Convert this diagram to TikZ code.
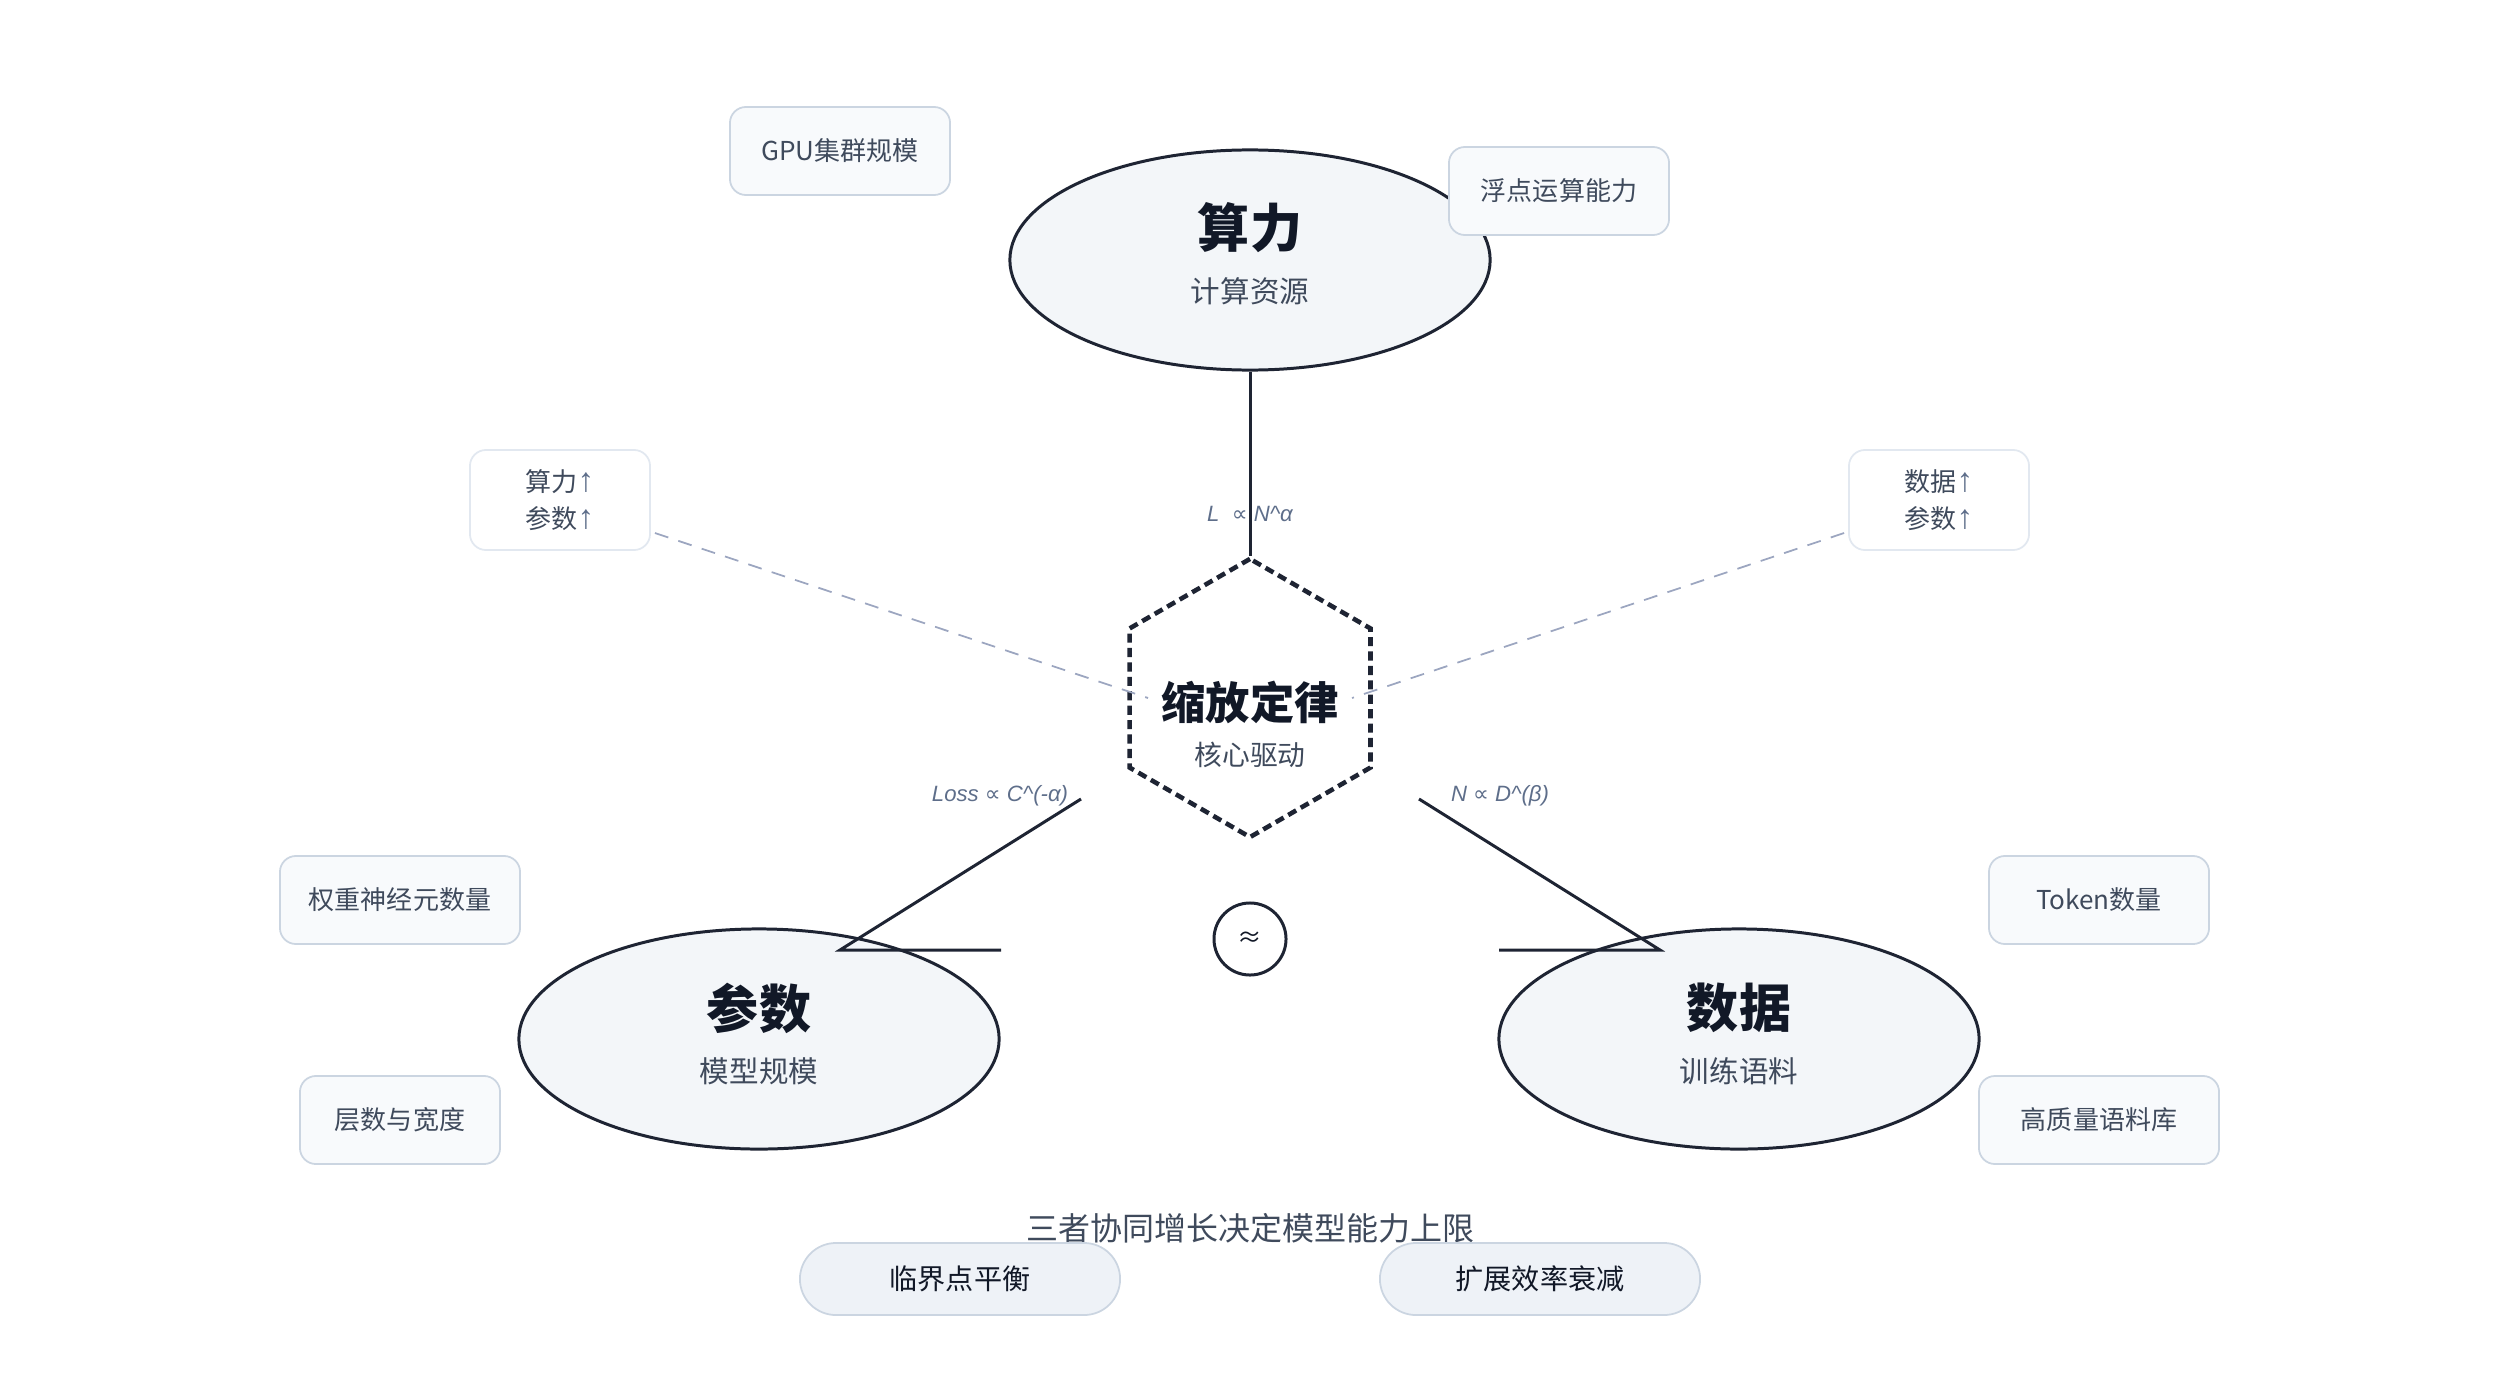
\documentclass[tikz,border=0pt]{standalone}
\usepackage{fontspec}
\setmainfont{Noto Sans CJK SC}
\newfontfamily\lawfont{Liberation Sans}
\newfontfamily\symfont{DejaVu Sans}
\usetikzlibrary{shapes.geometric}
\definecolor{ink}{HTML}{1E2433}
\definecolor{headc}{HTML}{111827}
\definecolor{subc}{HTML}{3F4A5C}
\definecolor{pillarfill}{HTML}{F3F6F9}
\definecolor{tagline}{HTML}{CBD5E1}
\definecolor{tagfill}{HTML}{F8FAFC}
\definecolor{tradeline}{HTML}{E2E8F0}
\definecolor{lawc}{HTML}{5E6E8A}
\definecolor{dashc}{HTML}{9CA6C0}
\definecolor{pillfill}{HTML}{EEF2F7}
\newcommand{\uparr}{{\lawfont\fontsize{9.5}{10.5}\selectfont\color{lawc}↑}}
\begin{document}
\begin{tikzpicture}[
    x=0.01cm, y=-0.01cm,
    pillar/.style={ellipse, draw=ink, line width=0.85pt, fill=pillarfill, minimum width=4.8cm, minimum height=2.2cm, inner sep=0pt},
    pillarhead/.style={font=\bfseries\fontsize{14.8}{16}\selectfont, text=headc},
    pillarsub/.style={font=\fontsize{8.4}{10}\selectfont, text=subc},
    tagbox/.style={draw=tagline, fill=tagfill, line width=0.5pt, rounded corners=0.16cm, minimum height=0.88cm, font=\fontsize{7.4}{9}\selectfont, text=subc},
    tradebox/.style={draw=tradeline, fill=white, line width=0.5pt, rounded corners=0.16cm, minimum width=1.8cm, minimum height=1cm, align=center, font=\fontsize{7.4}{10.5}\selectfont, text=subc},
    lawtext/.style={font=\lawfont\itshape\fontsize{6.3}{8}\selectfont, text=lawc},
    pillbox/.style={draw=tagline, fill=pillfill, line width=0.5pt, rounded corners=0.36cm, minimum width=3.2cm, minimum height=0.72cm, font=\fontsize{8}{10}\selectfont, text=headc},
    link/.style={draw=ink, line width=0.85pt},
    tradeoff/.style={draw=dashc, line width=0.5pt, dash pattern=on 4pt off 3pt}
]
\useasboundingbox (0,0) rectangle (2500,1400);

\node[pillar] (compute) at (1250,260) {};
\node[pillarhead] (compute-head) at (1250,228) {算力};
\node[pillarsub] (compute-sub) at (1250,291) {计算资源};

\node[pillar] (params) at (759,1039) {};
\node[pillarhead] (params-head) at (759,1008) {参数};
\node[pillarsub] (params-sub) at (759,1071) {模型规模};

\node[pillar] (data) at (1739,1039) {};
\node[pillarhead] (data-head) at (1739,1008) {数据};
\node[pillarsub] (data-sub) at (1739,1071) {训练语料};

\node[regular polygon, regular polygon sides=6, shape border rotate=30, minimum size=2.78cm, inner sep=0pt,
      draw=ink, line width=1.3pt, dash pattern=on 2.6pt off 1.5pt] (core) at (1250,698) {};
\node[font=\bfseries\fontsize{12.6}{14}\selectfont, text=headc] (core-head) at (1250,702) {缩放定律};
\node[font=\fontsize{7.9}{10}\selectfont, text=subc] (core-sub) at (1250,755) {核心驱动};

\node[tagbox, minimum width=2.2cm] (gpu) at (840,151) {GPU集群规模};
\node[tagbox, minimum width=2.2cm] (flops) at (1559,191) {浮点运算能力};
\node[tagbox, minimum width=2.4cm] (weights) at (400,900) {权重神经元数量};
\node[tagbox, minimum width=2.0cm] (layers) at (400,1120) {层数与宽度};
\node[tagbox, minimum width=2.2cm] (tokens) at (2099,900) {Token数量};
\node[tagbox, minimum width=2.4cm] (corpus) at (2099,1120) {高质量语料库};

\node[tradebox] (cp-trade) at (560,500) {算力\uparr\\参数\uparr};
\node[tradebox] (dp-trade) at (1939,500) {数据\uparr\\参数\uparr};
\coordinate (cp-end) at (1148,698);
\coordinate (dp-end) at (1352,698);
\draw[tradeoff] ([xshift=0.04cm, yshift=-0.33cm]cp-trade.east) -- (cp-end);
\draw[tradeoff] ([xshift=-0.04cm, yshift=-0.33cm]dp-trade.west) -- (dp-end);

\draw[link] (compute.south) -- node[lawtext, pos=0.77] {L \ {\symfont ∝} N\textasciicircum α} (core.north);

\coordinate (loss-a) at (1081,799);
\coordinate (loss-b) at (840,950);
\coordinate (loss-c) at (1001,950);
\draw[link] (loss-a) -- (loss-b) -- (loss-c);
\node[lawtext] (loss-law) at (1000,796) {Loss {\symfont ∝} C\textasciicircum(-α)};

\coordinate (data-a) at (1419,799);
\coordinate (data-b) at (1660,950);
\coordinate (data-c) at (1499,950);
\draw[link] (data-a) -- (data-b) -- (data-c);
\node[lawtext] (data-law) at (1500,796) {N {\symfont ∝} D\textasciicircum(β)};

\node[circle, draw=ink, line width=0.85pt, minimum size=0.72cm, inner sep=0pt, font=\fontsize{7}{8}\selectfont, text=headc] (balance) at (1250,939) {≈};

\node[font=\fontsize{9.1}{11}\selectfont, text=subc] (caption) at (1250,1228) {三者协同增长决定模型能力上限};
\node[pillbox] (critical) at (960,1279) {临界点平衡};
\node[pillbox] (decay) at (1540,1279) {扩展效率衰减};
\end{tikzpicture}
\end{document}
